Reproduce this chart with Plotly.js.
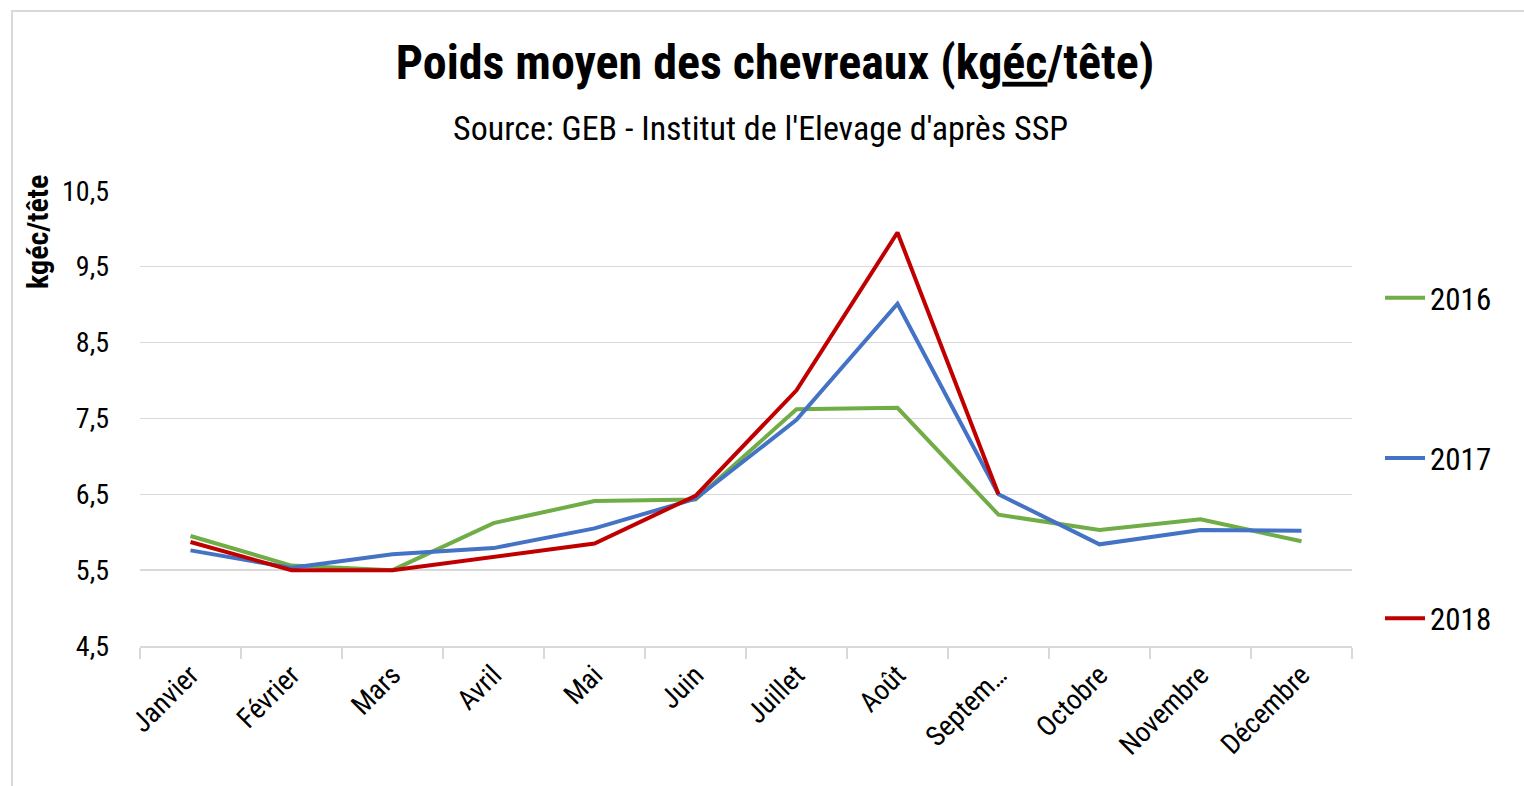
<!DOCTYPE html>
<html>
<head>
<meta charset="utf-8">
<script src="https://cdn.plot.ly/plotly-3.0.1.min.js"></script>
<style>
  html, body { margin: 0; padding: 0; background: #fff; }
  #wrap { position: relative; width: 1524px; height: 786px; overflow: hidden; }
  #chart { position: absolute; left: 0; top: 0; width: 1524px; height: 786px; }
  #frame { position: absolute; left: 11px; top: 10px; width: 1600px; height: 900px;
           border-left: 2px solid #d9d9d9; border-top: 2px solid #d9d9d9; pointer-events: none; }
</style>
</head>
<body>
<div id="wrap">
  <div id="chart"></div>
  <div id="frame"></div>
</div>
<script>
const months = ["Janvier","Février","Mars","Avril","Mai","Juin","Juillet","Août","Septembre","Octobre","Novembre","Décembre"];
const monthLabels = ["Janvier","Février","Mars","Avril","Mai","Juin","Juillet","Août","Septem…","Octobre","Novembre","Décembre"];
const y2016 = [5.95, 5.56, 5.50, 6.12, 6.41, 6.43, 7.62, 7.64, 6.23, 6.03, 6.17, 5.88];
const y2017 = [5.76, 5.53, 5.71, 5.79, 6.05, 6.44, 7.48, 9.01, 6.50, 5.84, 6.03, 6.02];
const y2018 = [5.87, 5.50, 5.50, 5.68, 5.85, 6.48, 7.87, 9.95, 6.50];
const yTicks = [4.5, 5.5, 6.5, 7.5, 8.5, 9.5, 10.5];
const yTickText = ["4,5", "5,5", "6,5", "7,5", "8,5", "9,5", "10,5"];

const FONT = "'Liberation Sans Narrow', 'Arial Narrow', 'Roboto Condensed', 'Liberation Sans', Arial, sans-serif";

// plot area in pixels
const L = 140, R = 1352, T = 190, B = 646;
const W = 1524, H = 786;
const px = (x) => (x - L) / (R - L);
const py = (y) => (B - y) / (B - T);

function tr(name, y, color) {
  return {
    type: "scatter", mode: "lines", name: name, legendgroup: name,
    x: months.slice(0, y.length), y: y,
    line: { color: color, width: 4 },
    hoverinfo: "x+y+name"
  };
}

const data = [
  tr("2016", y2016, "#70AD47"),
  tr("2017", y2017, "#4472C4"),
  tr("2018", y2018, "#C00000")
];

const layout = {
  width: W, height: H,
  paper_bgcolor: "#fff", plot_bgcolor: "#fff",
  font: { family: FONT, color: "#000", size: 28 },
  margin: { l: L, r: W - R, t: T, b: H - B, pad: 0 },
  title: {
    text: "<b>Poids moyen des chevreaux (kg<u>éc</u>/tête)</b>",
    font: { family: FONT, size: 48, color: "#000" },
    x: 775 / W, xanchor: "center", xref: "container",
    y: 1 - 62 / H, yanchor: "middle", yref: "container"
  },
  xaxis: {
    type: "category",
    categoryorder: "array", categoryarray: months,
    tickvals: months, ticktext: monthLabels,
    tickangle: -45,
    tickfont: { family: FONT, size: 28, color: "#000" },
    showgrid: false,
    showline: true, linecolor: "#d9d9d9", linewidth: 1.5,
    ticks: "outside", tickson: "boundaries", ticklen: 11, tickcolor: "#d9d9d9", tickwidth: 1.5,
    range: [-0.5, 11.5],
    zeroline: false, fixedrange: true
  },
  yaxis: {
    range: [4.5, 10.51],
    tickvals: yTicks, ticktext: yTickText,
    tickfont: { family: FONT, size: 28, color: "#000" },
    showgrid: true, gridcolor: "#d9d9d9", gridwidth: 1.5,
    showline: false, zeroline: false,
    ticks: "", ticklabelstandoff: 30,
    fixedrange: true
  },
  showlegend: true,
  legend: {
    x: px(1380), xanchor: "left",
    y: py(271), yanchor: "top",
    traceorder: "grouped",
    tracegroupgap: 117,
    itemwidth: 40,
    font: { family: FONT, size: 31, color: "#000" },
    bgcolor: "rgba(0,0,0,0)"
  },
  annotations: [
    {
      text: "Source: GEB - Institut de l'Elevage d'après SSP",
      xref: "paper", yref: "paper",
      x: px(760), y: py(128), xanchor: "center", yanchor: "middle",
      showarrow: false,
      font: { family: FONT, size: 34, color: "#000" }
    },
    {
      text: "<b>kgéc/tête</b>",
      xref: "paper", yref: "paper",
      x: px(38), y: py(232), xanchor: "center", yanchor: "middle",
      textangle: -90, showarrow: false,
      font: { family: FONT, size: 30, color: "#000" }
    }
  ]
};

Plotly.newPlot("chart", data, layout, { displayModeBar: false, staticPlot: true });
</script>
</body>
</html>
